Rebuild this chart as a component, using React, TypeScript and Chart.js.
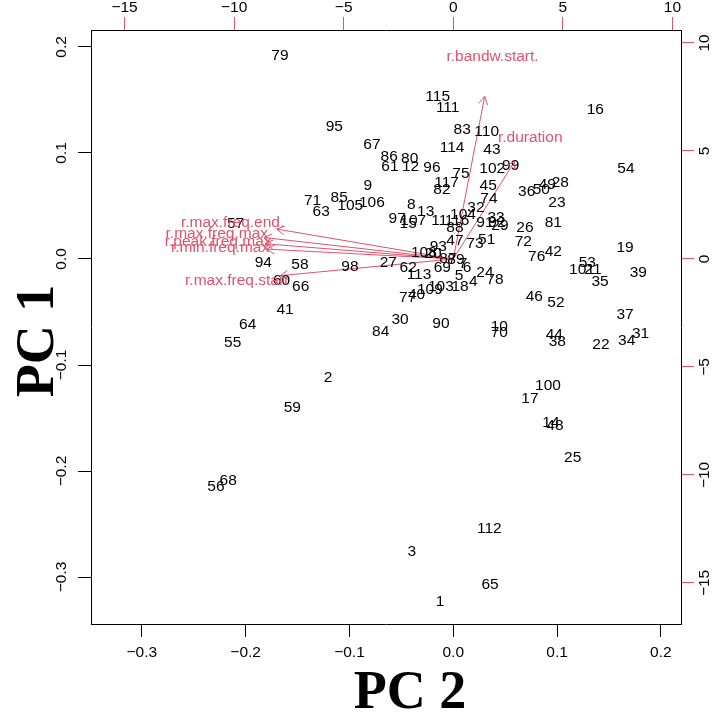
import React, { useEffect, useRef } from "react";
import { Chart, registerables } from "chart.js";

Chart.register(...registerables);

// ---- observation scores (PC 2 on x, PC 1 on y) ----
const obsLabels = [
  "79","115","111","95","83","110","16","114","67","43",
  "86","80","61","12","96","102","99","54","75","117",
  "82","9","45","36","50","49","28","74","23","71",
  "85","63","105","106","8","13","32","97","107","15",
  "11","104","116","88","33","91","92","29","81","26",
  "47","93","73","51","72","76","42","19","53","101",
  "21","39","35","57","94","58","60","66","98","27",
  "62","113","108","20","69","87","89","7","6","5",
  "24","4","78","18","103","109","40","77","46","52",
  "37","10","70","44","38","22","34","31","30","84",
  "90","41","64","55","2","59","56","68","100","17",
  "14","48","25","112","3","65","1"
];
const obsPC2 = [
  -0.1670,-0.0150,-0.0054,-0.1146,0.0086,0.0322,0.1368,-0.0012,-0.0784,0.0373,
  -0.0617,-0.0420,-0.0610,-0.0411,-0.0205,0.0376,0.0553,0.1664,0.0074,-0.0064,
  -0.0109,-0.0824,0.0337,0.0707,0.0848,0.0906,0.1031,0.0344,0.0999,-0.1355,
  -0.1099,-0.1272,-0.0992,-0.0784,-0.0405,-0.0266,0.0219,-0.0540,-0.0385,-0.0434,
  -0.0135,0.0094,0.0036,0.0016,0.0412,0.0305,0.0421,0.0450,0.0964,0.0691,
  0.0016,-0.0144,0.0209,0.0322,0.0675,0.0804,0.0964,0.1655,0.1291,0.1240,
  0.1346,0.1783,0.1414,-0.2097,-0.1830,-0.1477,-0.1654,-0.1470,-0.0995,-0.0626,
  -0.0434,-0.0330,-0.0283,-0.0195,-0.0106,-0.0051,0.0026,0.0094,0.0132,0.0055,
  0.0305,0.0193,0.0401,0.0065,-0.0119,-0.0225,-0.0353,-0.0439,0.0781,0.0989,
  0.1655,0.0443,0.0443,0.0973,0.1002,0.1423,0.1671,0.1805,-0.0513,-0.0699,
  -0.0119,-0.1621,-0.1981,-0.2125,-0.1207,-0.1551,-0.2286,-0.2168,0.0913,0.0739,
  0.0941,0.0980,0.1151,0.0347,-0.0400,0.0354,-0.0128
];
const obsPC1 = [
  0.1925,0.1541,0.1443,0.1264,0.1229,0.1210,0.1422,0.1066,0.1088,0.1044,
  0.0978,0.0959,0.0884,0.0884,0.0871,0.0865,0.0896,0.0861,0.0814,0.0729,
  0.0663,0.0705,0.0705,0.0651,0.0667,0.0708,0.0736,0.0578,0.0541,0.0563,
  0.0594,0.0462,0.0512,0.0547,0.0528,0.0459,0.0493,0.0390,0.0375,0.0346,
  0.0371,0.0425,0.0377,0.0311,0.0399,0.0352,0.0358,0.0330,0.0358,0.0305,
  0.0186,0.0132,0.0158,0.0195,0.0179,0.0038,0.0078,0.0123,-0.0019,-0.0085,
  -0.0085,-0.0113,-0.0205,0.0342,-0.0025,-0.0040,-0.0192,-0.0245,-0.0057,-0.0025,
  -0.0073,-0.0135,0.0075,0.0066,-0.0073,0.0019,0.0009,-0.0028,-0.0075,-0.0142,
  -0.0120,-0.0198,-0.0186,-0.0245,-0.0245,-0.0274,-0.0324,-0.0356,-0.0346,-0.0403,
  -0.0512,-0.0623,-0.0686,-0.0701,-0.0771,-0.0795,-0.0755,-0.0695,-0.0559,-0.0670,
  -0.0597,-0.0465,-0.0607,-0.0780,-0.1104,-0.1393,-0.2139,-0.2078,-0.1186,-0.1302,
  -0.1533,-0.1559,-0.1858,-0.2535,-0.2745,-0.3059,-0.3224
];

// ---- variable loadings (secondary axes) ----
const varNames = [
  "r.bandw.start.","r.duration","r.max.freq.end.","r.max.freq.max",
  "r.peak.freq.max","r.min.freq.max","r.max.freq.start"
];
const varPC2 = [1.79, 3.51, -10.07, -10.79, -10.73, -10.64, -9.88];
const varPC1 = [9.40, 5.66, 1.73, 1.24, 0.88, 0.57, -0.97];
const arrowFrac = 0.8;

// ---- axes ----
const xMin = -0.3490, xMax = 0.2194;
const yMin = -0.3443, yMax = 0.2160;
const x2Min = -16.53, x2Max = 10.39;
const y2Min = -16.90, y2Max = 10.60;
const xTicks = [-0.3, -0.2, -0.1, 0, 0.1, 0.2];
const xTickLabels = ["\u22120.3", "\u22120.2", "\u22120.1", "0.0", "0.1", "0.2"];
const yTicks = [-0.3, -0.2, -0.1, 0, 0.1, 0.2];
const yTickLabels = ["\u22120.3", "\u22120.2", "\u22120.1", "0.0", "0.1", "0.2"];
const x2Ticks = [-15, -10, -5, 0, 5, 10];
const x2TickLabels = ["\u221215", "\u221210", "\u22125", "0", "5", "10"];
const y2Ticks = [-15, -10, -5, 0, 5, 10];
const y2TickLabels = ["\u221215", "\u221210", "\u22125", "0", "5", "10"];
const xTitle = "PC 2";
const yTitle = "PC 1";

const RED = "#DF536B";
const SANS = '"Liberation Sans", Arial, Helvetica, sans-serif';
const SERIF = '"Liberation Serif", "Times New Roman", serif';
const LABEL_PX = 15.5;
const TICK_LEN = 13;

const biplotPlugin = {
  id: "biplotText",
  afterDatasetsDraw(chart: any) {
    const ctx = chart.ctx;
    const { x, y, x2, y2 } = chart.scales;
    ctx.save();
    // observation labels
    ctx.font = `${LABEL_PX}px ${SANS}`;
    ctx.fillStyle = "#000";
    ctx.textAlign = "center";
    ctx.textBaseline = "alphabetic";
    const capHalf = LABEL_PX * 0.358;
    const meta = chart.getDatasetMeta(0);
    meta.data.forEach((el: any, i: number) => {
      ctx.fillText(obsLabels[i], el.x, el.y + capHalf);
    });
    // arrow heads and variable labels
    ctx.strokeStyle = RED;
    ctx.fillStyle = RED;
    ctx.lineWidth = 1;
    varNames.forEach((name, i) => {
      const m = chart.getDatasetMeta(i + 1);
      const p0 = m.data[0];
      const p1 = m.data[1];
      const ang = Math.atan2(p1.y - p0.y, p1.x - p0.x);
      const L = 9;
      const a = Math.PI / 6;
      ctx.beginPath();
      ctx.moveTo(p1.x - L * Math.cos(ang - a), p1.y - L * Math.sin(ang - a));
      ctx.lineTo(p1.x, p1.y);
      ctx.lineTo(p1.x - L * Math.cos(ang + a), p1.y - L * Math.sin(ang + a));
      ctx.stroke();
      const lx = x2.getPixelForValue(varPC2[i]);
      const ly = y2.getPixelForValue(varPC1[i]);
      ctx.fillText(name, lx, ly + capHalf);
    });
    // tick labels
    ctx.fillStyle = "#000";
    ctx.font = `${LABEL_PX}px ${SANS}`;
    ctx.textAlign = "center";
    xTicks.forEach((v, i) => {
      ctx.fillText(xTickLabels[i], x.getPixelForValue(v), 656.5);
    });
    x2Ticks.forEach((v, i) => {
      ctx.fillText(x2TickLabels[i], x2.getPixelForValue(v), 11.5);
    });
    yTicks.forEach((v, i) => {
      ctx.save();
      ctx.translate(65.5, y.getPixelForValue(v));
      ctx.rotate(-Math.PI / 2);
      ctx.fillText(yTickLabels[i], 0, 0);
      ctx.restore();
    });
    y2Ticks.forEach((v, i) => {
      ctx.save();
      ctx.translate(708.5, y2.getPixelForValue(v));
      ctx.rotate(-Math.PI / 2);
      ctx.fillText(y2TickLabels[i], 0, 0);
      ctx.restore();
    });
    // axis titles
    ctx.font = `bold 54px ${SERIF}`;
    ctx.fillText(xTitle, 410, 708);
    ctx.save();
    ctx.translate(53, 341);
    ctx.rotate(-Math.PI / 2);
    ctx.fillText(yTitle, 0, 0);
    ctx.restore();
    ctx.restore();
  },
};

function tickSetter(values: number[]) {
  return (scale: any) => {
    scale.ticks = values.map((v) => ({ value: v }));
  };
}

export default function App() {
  const ref = useRef<HTMLCanvasElement | null>(null);
  useEffect(() => {
    if (!ref.current) return;
    const obsData = obsPC2.map((v, i) => ({ x: v, y: obsPC1[i] }));
    const arrowSets = varNames.map((n, i) => ({
      label: n,
      data: [
        { x: 0, y: 0 },
        { x: varPC2[i] * arrowFrac, y: varPC1[i] * arrowFrac },
      ],
      xAxisID: "x2",
      yAxisID: "y2",
      showLine: true,
      borderColor: RED,
      borderWidth: 1,
      pointRadius: 0,
      fill: false,
    }));
    const axisCommon = (color: string) => ({
      type: "linear" as const,
      ticks: { display: false },
      grid: {
        drawOnChartArea: false,
        drawTicks: true,
        tickLength: TICK_LEN,
        color: color,
        tickColor: color,
        tickWidth: 1,
      },
      border: { display: true, color: "#000", width: 1 },
    });
    const chart = new Chart(ref.current, {
      type: "scatter",
      data: {
        datasets: [
          {
            label: "obs",
            data: obsData,
            xAxisID: "x",
            yAxisID: "y",
            pointRadius: 0,
            pointHoverRadius: 0,
          },
          ...arrowSets,
        ] as any,
      },
      options: {
        responsive: false,
        animation: false,
        events: [],
        layout: { padding: 0 },
        plugins: { legend: { display: false }, tooltip: { enabled: false } },
        scales: {
          x: {
            ...axisCommon("#000"),
            position: "bottom",
            min: xMin,
            max: xMax,
            afterBuildTicks: tickSetter(xTicks),
            afterFit: (s: any) => { s.height = 90; },
          },
          x2: {
            ...axisCommon(RED),
            position: "top",
            min: x2Min,
            max: x2Max,
            afterBuildTicks: tickSetter(x2Ticks),
            afterFit: (s: any) => { s.height = 30; },
          },
          y: {
            ...axisCommon("#000"),
            position: "left",
            min: yMin,
            max: yMax,
            afterBuildTicks: tickSetter(yTicks),
            afterFit: (s: any) => { s.width = 91; },
          },
          y2: {
            ...axisCommon(RED),
            position: "right",
            min: y2Min,
            max: y2Max,
            afterBuildTicks: tickSetter(y2Ticks),
            afterFit: (s: any) => { s.width = 34; },
          },
        } as any,
      },
      plugins: [biplotPlugin],
    });
    return () => chart.destroy();
  }, []);
  return (
    <canvas
      ref={ref}
      width={715}
      height={714}
      style={{ position: "absolute", left: 0, top: 0, width: 715, height: 714, background: "#fff" }}
    />
  );
}
